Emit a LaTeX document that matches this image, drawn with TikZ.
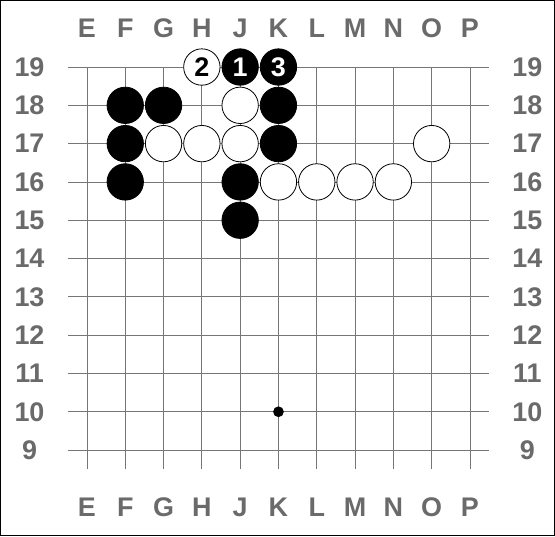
\documentclass[tikz,border=0pt]{standalone}
\usepackage{fontspec}
\setsansfont{Liberation Sans}
\usepackage{tikz}
\usetikzlibrary{positioning}
\definecolor{boardLine}{HTML}{767676}
\definecolor{coordGray}{HTML}{6A6A6A}

\begin{document}
\begin{tikzpicture}[
  x=1cm, y=1cm,
  gridline/.style={boardLine, line width=0.6pt},
  coordlabel/.style={font=\sffamily\bfseries\fontsize{20}{21}\selectfont, text=coordGray},
  stonebase/.style={circle, minimum size=0.95cm, inner sep=0pt, line width=0.6pt,
    font=\sffamily\bfseries\fontsize{20}{20}\selectfont},
  blackstone/.style={stonebase, fill=black, draw=black, text=white},
  whitestone/.style={stonebase, fill=white, draw=black, text=black},
  starpoint/.style={circle, fill=black, minimum size=0.28cm, inner sep=0pt}
]
  \useasboundingbox (-2.27,6.755) rectangle (12.22,20.75);
  \draw[black, line width=1pt] (-2.25,6.775) rectangle (12.2,20.73);

  % Board lines and coordinates
  \foreach \c [count=\i from 0] in {E,F,G,H,J,K,L,M,N,O,P} {
    \draw[gridline] (\i,19) -- (\i,8.5);
    \node[coordlabel] (top-\c) at (\i,20) {\c};
    \node[coordlabel] (bot-\c) at (\i,7.5) {\c};
  }
  \foreach \r in {9,...,19} {
    \draw[gridline] (-0.5,\r) -- (10.5,\r);
    \node[coordlabel] (left-\r) at (-1.5,\r) {\r};
    \node[coordlabel] (right-\r) at (11.5,\r) {\r};
  }
  \node[starpoint] (star-K10) at (5,10) {};

  % Stones
  \foreach \s/\x/\y in {F18/1/18, G18/2/18, K18/5/18, F17/1/17, K17/5/17,
                        F16/1/16, J16/4/16, J15/4/15}
    \node[blackstone] (\s) at (\x,\y) {};
  \foreach \s/\x/\y in {J18/4/18, G17/2/17, H17/3/17, J17/4/17, O17/9/17,
                        K16/5/16, L16/6/16, M16/7/16, N16/8/16}
    \node[whitestone] (\s) at (\x,\y) {};

  % Numbered moves
  \node[blackstone] (move1) at (4,19) {1};
  \node[whitestone] (move2) at (3,19) {2};
  \node[blackstone] (move3) at (5,19) {3};
\end{tikzpicture}
\end{document}
